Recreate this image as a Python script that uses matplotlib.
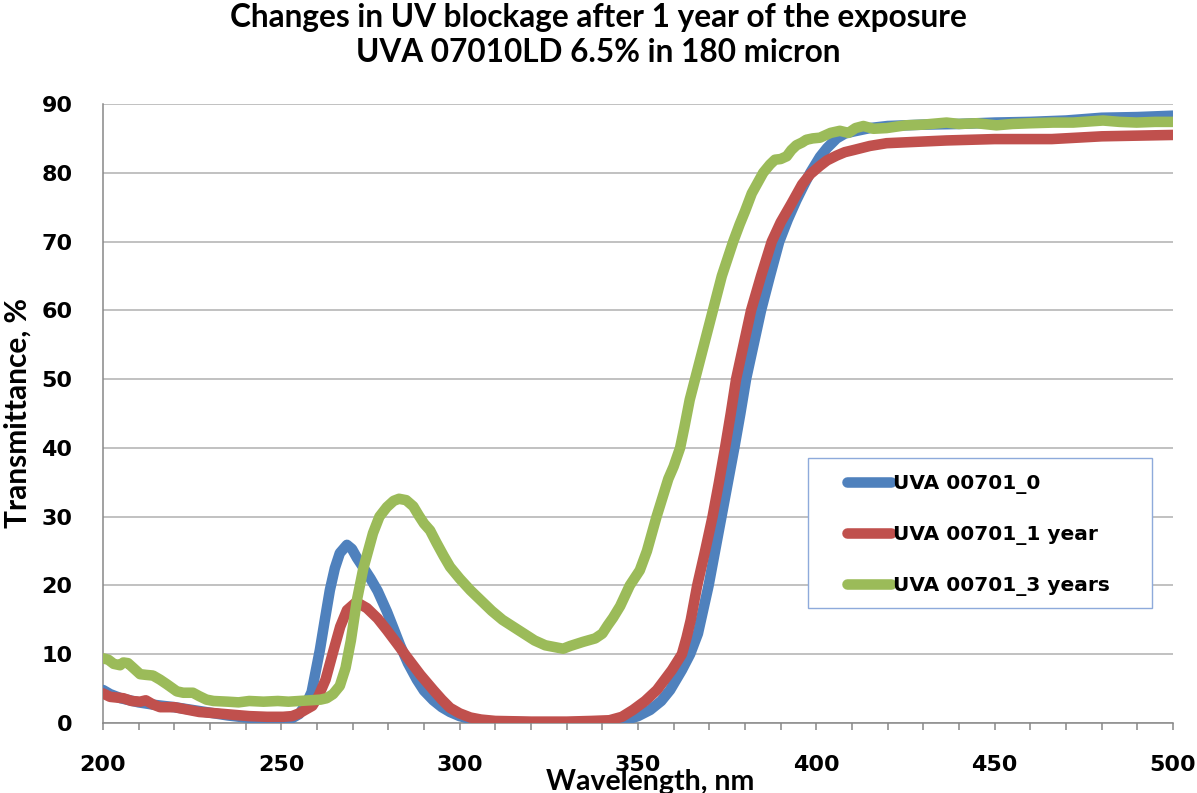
import numpy as np
import matplotlib
matplotlib.use('Agg')
import matplotlib.pyplot as plt
from matplotlib.patches import Rectangle

# ---- data ----
wl_0 = [200, 202, 205, 210, 215, 220, 225, 230, 235, 240, 245, 250, 253, 255, 257,
        258.5, 260.8, 262.2, 263.6, 265, 266.4, 268.4, 269.8, 271.2, 273, 275, 277,
        279.6, 281.5, 283.3, 285.5, 288, 290, 292.6, 295, 297.3, 300, 303, 306, 310,
        320, 330, 338, 342, 347, 350, 353.4, 356.5, 359, 362.3, 364.6, 366.8, 369.8,
        371.6, 373.4, 375.2, 377, 378.7, 380.3, 382.4, 384.5, 387, 389.6, 392, 394.4,
        396.5, 398.3, 401, 403, 405.7, 408, 410.4, 415, 420, 430, 440, 450, 460, 470,
        480, 490, 500]
t_0 = [4.8, 4.2, 3.6, 3.0, 2.6, 2.3, 1.9, 1.5, 1.1, 0.8, 0.6, 0.5, 0.7, 1.3, 2.8,
       4.5, 10.6, 15.0, 19.3, 22.5, 24.7, 25.9, 25.3, 24.0, 22.6, 21.0, 19.2,
       16.2, 13.7, 11.3, 8.7, 6.3, 4.7, 3.3, 2.3, 1.6, 1.0, 0.6, 0.35, 0.2,
       0.1, 0.1, 0.15, 0.25, 0.5, 1.0, 1.9, 3.2, 4.8, 7.7, 10.0, 13.0, 20,
       25, 30, 35, 40, 45, 50, 55, 60, 65, 70, 73.2, 76.0,
       78.2, 80, 82.3, 83.6, 85.0, 85.7, 86.0, 86.5, 86.8, 87.0, 87.1, 87.3, 87.4, 87.6,
       88.0, 88.1, 88.3]

wl_1 = [200, 202, 205.7, 208, 210.4, 212, 214, 216, 220, 224, 227, 232, 236.4, 241,
        246, 250.5, 253, 255, 257, 258.7, 260.5, 262.4, 264.5, 266.5, 268.4, 270.6, 272,
        274, 277, 279.6, 282.5, 285.2, 289, 292.6, 295, 297.3, 300, 303, 306, 310, 320,
        330, 337, 342, 345.5, 348.6, 352, 355.3, 359.5, 362.3, 363.6, 364.8, 366.6, 368.8,
        370.9, 372.7, 374.4, 376, 377.5, 379.6, 381.7, 384.5, 387.5, 390, 393, 396, 398.3,
        401, 403, 405.7, 408, 410.4, 415, 419.7, 428, 436.5, 450, 466, 480, 490, 500]
t_1 = [4.3, 3.8, 3.6, 3.2, 3.1, 3.3, 2.7, 2.3, 2.3, 1.9, 1.6, 1.4, 1.2, 1.0,
       0.9, 0.9, 1.0, 1.4, 2.0, 2.5, 4.0, 6.3, 10.3, 14.0, 16.4, 17.4, 17.3,
       16.7, 15.2, 13.5, 11.5, 9.6, 7.0, 4.8, 3.4, 2.2, 1.4, 0.8, 0.5, 0.3, 0.2,
       0.2, 0.3, 0.4, 0.9, 1.9, 3.2, 4.8, 7.7, 10.0, 12.4, 15, 20, 25,
       30, 35, 40, 45, 50, 55, 60, 65, 70, 72.8, 75.5, 78.3, 79.8,
       81.0, 81.8, 82.5, 83.0, 83.3, 83.9, 84.3, 84.5, 84.7, 84.9, 84.9, 85.3, 85.4, 85.5]

wl_3 = [200, 201.5, 203, 204.8, 205.7, 207, 208.5, 210.4, 212, 214, 216, 218, 220.7,
        222.5, 225.2, 227, 229, 231, 235, 238, 241, 245, 249, 252, 255, 258, 261, 262.7,
        264.5, 266.4, 268, 269.5, 271.2, 273, 275.7, 277.5, 279.6, 281.5, 283, 285, 287,
        288.5, 290, 291.7, 293.5, 295.5, 297.3, 300, 303, 306, 309, 312, 315, 318, 321,
        324, 327, 329, 331, 334.6, 338, 340, 341.5, 343, 345, 347.7, 350.5, 352.5, 355.2,
        357, 358.5, 360, 361.8, 363, 364.5, 366, 368.5, 371, 373.5, 376.7, 378.5, 380,
        381.9, 383.5, 385.1, 387, 388.4, 390, 391.7, 393, 394.4, 396, 397.2, 399, 401,
        404, 406.6, 409, 411, 413.2, 416, 419.7, 425, 430, 436.5, 440, 445, 450.5, 455,
        460, 466.4, 472, 480.4, 485, 489.8, 495, 500]
t_3 = [9.4, 9.2, 8.6, 8.4, 8.8, 8.7, 8.0, 7.1, 7.0, 6.9, 6.3, 5.6, 4.6,
       4.4, 4.4, 3.9, 3.4, 3.2, 3.1, 3.0, 3.2, 3.1, 3.2, 3.1, 3.2, 3.3, 3.4, 3.6,
       4.2, 5.4, 8.0, 12.0, 17.9, 22.5, 27.6, 30.0, 31.4, 32.3, 32.6, 32.4, 31.5,
       30.2, 29.0, 28.0, 26.2, 24.3, 22.7, 21.0, 19.3, 17.8, 16.3, 15.0, 14.0, 13.0, 12.0,
       11.3, 11.0, 10.8, 11.2, 11.8, 12.3, 13.0, 14.2, 15.3, 17.0, 20.0, 22.2, 25, 30,
       33, 35.5, 37.3, 40, 43, 47, 50, 55, 60, 65, 70, 72.5, 74.4,
       77, 78.5, 80, 81.2, 81.9, 82.0, 82.4, 83.3, 84.0, 84.4, 84.8, 85.0, 85.1,
       85.8, 86.1, 85.8, 86.5, 86.8, 86.4, 86.5, 86.9, 87.0, 87.3, 87.1, 87.2, 86.9, 87.1,
       87.2, 87.3, 87.3, 87.6, 87.4, 87.3, 87.4, 87.4]

labels = ['UVA 00701_0', 'UVA 00701_1 year', 'UVA 00701_3 years']
colors = ['#4F81BD', '#C0504D', '#9BBB59']
title_lines = ['Changes in UV blockage after 1 year of the exposure',
               'UVA 07010LD 6.5% in 180 micron']

narrow = ['Lato', 'DejaVu Sans']

# ---------- PLOT ----------
fig = plt.figure(figsize=(11.97, 7.93), dpi=100)
ax = fig.add_axes([103/1197, 1-723/793, 1070/1197, 619/793])

series = [(wl_0, t_0), (wl_1, t_1), (wl_3, t_3)]
for (x, y), c, lab in zip(series, colors, labels):
    ax.plot(x, y, color=c, lw=7.6, label=lab, solid_joinstyle='round',
            solid_capstyle='round', zorder=3)

ax.set_xlim(200, 500)
ax.set_ylim(0, 90)
ax.set_xticks(np.arange(200, 501, 50))
ax.set_xticks(np.arange(200, 501, 10), minor=True)
ax.set_yticks(np.arange(0, 91, 10))
ax.yaxis.grid(True, color='#B0B0B0', lw=1.1)
ax.set_axisbelow(True)
for s in ['top', 'right']:
    ax.spines[s].set_visible(False)
for s in ['left', 'bottom']:
    ax.spines[s].set_color('#888888')
    ax.spines[s].set_linewidth(1.1)
ax.tick_params(axis='x', which='both', direction='out', length=5, color='#888888',
               width=1.1, pad=18)
ax.tick_params(axis='y', length=0, pad=22)
for t in ax.get_xticklabels() + ax.get_yticklabels():
    t.set_fontsize(16)
    t.set_fontweight('bold')

ax.set_xlabel('Wavelength, nm', family=narrow, fontsize=20.5, fontweight='bold', labelpad=-4)
ax.xaxis.label.set_x(0.511)
ax.set_ylabel('Transmittance, %', family=narrow, fontsize=21.5, fontweight='bold', labelpad=7)

fig.text(0.5, 1-18/793, title_lines[0], ha='center', va='center', family=narrow,
         fontsize=22.7, fontweight='bold')
fig.text(0.5, 1-52/793, title_lines[1], ha='center', va='center', family=narrow,
         fontsize=22.7, fontweight='bold')

# legend box
fig.patches.append(Rectangle((808/1197, 1-608/793), 344/1197, 150/793,
                             transform=fig.transFigure, facecolor='white',
                             edgecolor='#8EAADB', lw=1.0, zorder=4))
leg = fig.legend(loc='upper left', bbox_to_anchor=(847/1197, 1-474/793),
                 frameon=False, borderpad=0, borderaxespad=0, handlelength=2.2,
                 handletextpad=0.1, labelspacing=1.55,
                 prop={'weight': 'bold', 'size': 14.5})
leg.set_zorder(5)
for h in leg.get_lines():
    h.set_linewidth(7.6)
    h.set_solid_capstyle('round')

fig.savefig('out.png', dpi=100)
